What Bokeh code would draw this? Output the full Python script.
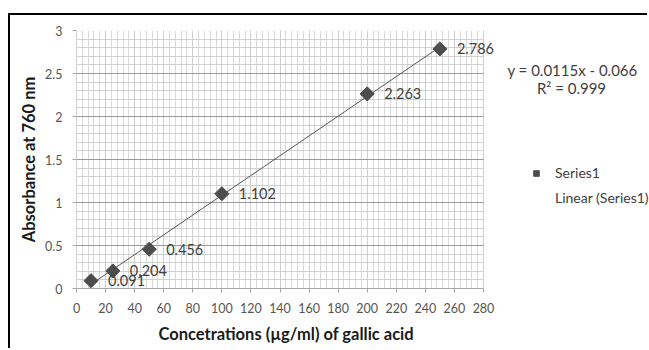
from bokeh.plotting import figure
from bokeh.models import (ColumnDataSource, LabelSet, Label, Legend, LegendItem,
                          Range1d, FixedTicker, Title)
from bokeh.embed import file_html
from bokeh.resources import INLINE
from bokeh.core.properties import value
import numpy as np

# data
conc = [10, 25, 50, 100, 200, 250]
absorb = [0.091, 0.204, 0.456, 1.102, 2.263, 2.786]
labels = ["0.091", "0.204", "0.456", "1.102", "2.263", "2.786"]
slope = 0.0115
intercept = -0.066
trend_x = [10, 250]
x_ticks = list(range(0, 281, 20))
x_minor = list(range(0, 281, 4))
y_ticks = [0, 0.5, 1, 1.5, 2, 2.5, 3]
y_minor = [round(v * 0.1, 1) for v in range(0, 31)]
x_title = "Concetrations (µg/ml) of gallic acid"
y_title = "Absorbance at 760 nm"
eq_text = "y = 0.0115x - 0.066"
r2_text = "R² = 0.999"

FONT = "Lato"

# geometry (pixels)
CANVAS_W, CANVAS_H = 639, 335
LEFT, TOP, BOTTOM = 66, 15, 61
PLOT_W_PX = 407          # width of the 0..280 plot area
frame_w = CANVAS_W - LEFT
x_end = 280 * frame_w / PLOT_W_PX

p = figure(width=CANVAS_W, height=CANVAS_H, output_backend="svg", toolbar_location=None,
           x_range=Range1d(0, x_end), y_range=Range1d(0, 3),
           min_border_left=LEFT, min_border_right=0, min_border_top=TOP,
           min_border_bottom=BOTTOM)
p.styles = {"margin-left": "8px", "margin-top": "13px",
            "border-left": "2px solid black", "border-top": "2px solid black"}
p.outline_line_color = None
p.background_fill_color = "white"
p.border_fill_color = "white"

# axes
p.xaxis.ticker = FixedTicker(ticks=x_ticks, minor_ticks=x_minor)
p.yaxis.ticker = FixedTicker(ticks=y_ticks, minor_ticks=y_minor)
p.xaxis.bounds = (0, 280)
p.yaxis.bounds = (0, 3)
p.yaxis.axis_label = y_title
for ax in (p.xaxis, p.yaxis):
    ax.axis_label_text_font = FONT
    ax.axis_label_text_font_style = "bold"
    ax.axis_label_text_font_size = "16.5px"
    ax.axis_label_text_color = "#1a1a1a"
    ax.major_label_text_font = FONT
    ax.major_label_text_font_size = "12.5px"
    ax.major_label_text_color = "#555555"
    ax.major_tick_in = 0
    ax.major_tick_out = 4
    ax.minor_tick_in = 0
    ax.minor_tick_out = 0
    ax.major_label_standoff = 10
    ax.axis_line_color = "#a6a6a6"
    ax.major_tick_line_color = "#a6a6a6"
p.yaxis.axis_label_standoff = 3
p.yaxis.axis_line_color = "#cfcfcf"

# x-axis title, placed below the axis over the 0..280 plot area
p.add_layout(Title(text=x_title, align="left", offset=82, standoff=13,
                   text_line_height=0.7,
                   text_font=FONT, text_font_style="bold", text_font_size="16.5px",
                   text_color="#1a1a1a"), "below")

# grids
p.xgrid.grid_line_color = "#cfcfcf"
p.xgrid.minor_grid_line_color = "#d9d9d9"
p.ygrid.grid_line_color = "#999999"
p.ygrid.minor_grid_line_color = "#cfcfcf"
p.ygrid.cross_bounds = (0, 280)
p.xgrid.cross_bounds = (0, 3)

# trendline
trend_y = [slope * x + intercept for x in trend_x]
tl = p.line(trend_x, trend_y, line_color="#555555", line_width=1)

# points
src = ColumnDataSource(dict(x=conc, y=absorb, lab=labels))
pts = p.scatter("x", "y", source=src, marker="square", angle=np.pi / 4, size=10,
                fill_color="#4d4d4d", line_color="#4d4d4d")

p.add_layout(LabelSet(x="x", y="y", text="lab", source=src, x_offset=17, y_offset=0,
                      text_baseline="middle", text_font=value(FONT),
                      text_font_size="14.5px", text_color="#404040"))

# equation (screen offsets from the plot frame's bottom-left corner)
p.add_layout(Label(x=496, y=219, x_units="screen", y_units="screen",
                   text=eq_text, text_align="center", text_baseline="middle",
                   text_font=FONT, text_font_size="15px", text_color="#404040"))
p.add_layout(Label(x=495, y=201, x_units="screen", y_units="screen",
                   text=r2_text, text_align="center", text_baseline="middle",
                   text_font=FONT, text_font_size="15px", text_color="#404040"))

# legend
legend = Legend(items=[LegendItem(label="Series1", renderers=[pts]),
                       LegendItem(label="Linear (Series1)", renderers=[])],
                location=(453, 82), orientation="vertical",
                background_fill_alpha=0, border_line_color=None,
                label_text_font=FONT, label_text_font_size="14px",
                label_text_color="#404040", glyph_width=14, glyph_height=16,
                label_height=16, spacing=8, label_standoff=12, padding=0, margin=0)
p.add_layout(legend)

open("out.html", "w").write(file_html(p, INLINE))
